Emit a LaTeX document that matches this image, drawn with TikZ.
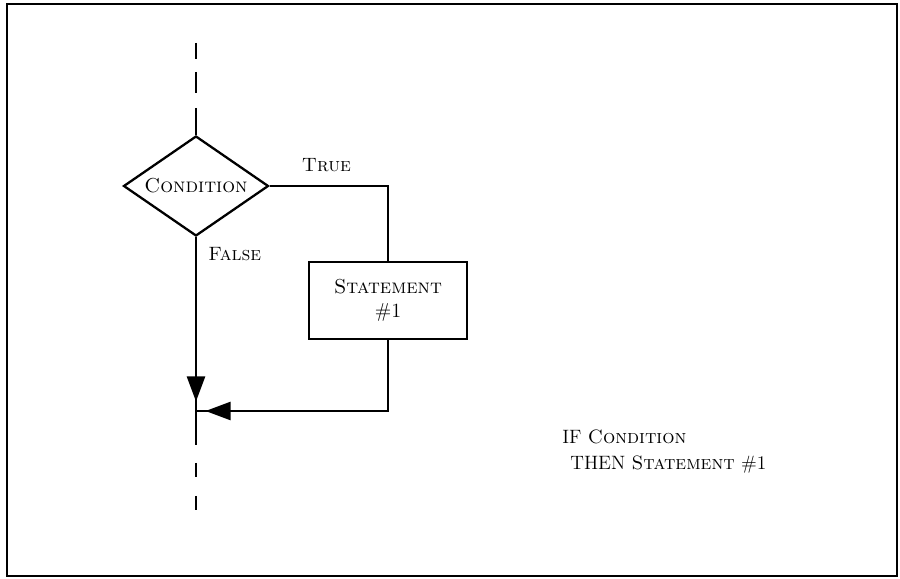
\documentclass[tikz,border=0pt]{standalone}
\usetikzlibrary{shapes.geometric,arrows.meta,decorations.markings,positioning}

\tikzstyle{decision} = [diamond, draw=black, line width=1.3pt, aspect=1.45, minimum width=2.9cm, minimum height=2cm, inner sep=0pt, font=\fontsize{11.5}{13}\selectfont]
\tikzstyle{rect} = [rectangle, draw=black, line width=1.3pt, minimum width=3.16cm, minimum height=1.54cm, align=center, font=\fontsize{11.5}{14}\selectfont]
\tikzstyle{line} = [line width=1.3pt]
\tikzstyle{flow} = [line, postaction={decorate}, decoration={markings, mark=at position -0.19cm with {\arrow{Triangle[length=0.5cm,width=0.36cm]}}}]
\tikzstyle{label} = [font=\fontsize{11}{13}\selectfont]
\tikzstyle{code} = [font=\fontsize{11}{13}\selectfont, anchor=west, inner sep=0pt]

\begin{document}
\begin{tikzpicture}

\useasboundingbox (0,0) rectangle (18,-11.58);
\draw[line width=0.9pt] (0.14,-0.08) rectangle (17.94,-11.52);

\node (cond) [decision] at (3.92,-3.72) {\textsc{Condition}};
\node (stmt) [rect] at (7.76,-6.01) {\textsc{Statement}\\\#1};

\coordinate (join) at (3.92,-8.22);
\coordinate (corner) at (stmt.south |- join);

% dashed lead-in above the test
\coordinate (topa) at (3.92,-0.86);
\coordinate (topb) at (3.92,-1.18);
\coordinate (topc) at (3.92,-1.44);
\coordinate (topd) at (3.92,-1.86);
\coordinate (tope) at (3.92,-2.16);
\draw[line] (topa) -- (topb);
\draw[line] (topc) -- (topd);
\draw[line] (tope) -- (cond.north);

% true branch
\draw[line] (cond.east) -| node[label, pos=0.24, above=4pt] {\textsc{True}} (stmt.north);
\draw[flow] (stmt.south) -- (corner) -- (join);

% false branch
\draw[flow] (cond.south) -- node[label, pos=0.1, right=3pt] {\textsc{False}} (join);

% dashed lead-out below
\coordinate (bota) at (3.92,-8.90);
\coordinate (botb) at (3.92,-9.26);
\coordinate (botc) at (3.92,-9.54);
\coordinate (botd) at (3.92,-9.92);
\coordinate (bote) at (3.92,-10.20);
\draw[line] (join) -- (bota);
\draw[line] (botb) -- (botc);
\draw[line] (botd) -- (bote);

\node (ifline) [code] at (11.24,-8.74) {IF \textsc{Condition}};
\node (thenline) [code] at (11.40,-9.30) {THEN \textsc{Statement} \#1};

\end{tikzpicture}
\end{document}
